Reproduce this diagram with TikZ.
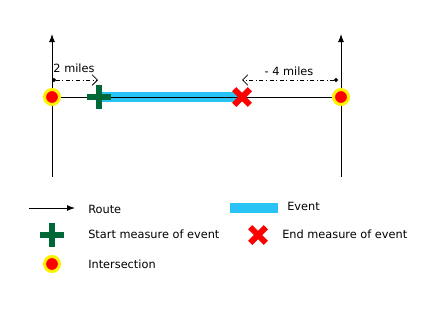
\documentclass[tikz,border=0pt]{standalone}
\usepackage{fontspec}
\setmainfont{DejaVu Sans}
\usetikzlibrary{arrows.meta,positioning,calc}
\definecolor{evblue}{RGB}{41,196,246}
\definecolor{stgreen}{RGB}{0,104,55}
\definecolor{endred}{RGB}{255,0,0}
\tikzset{
  route/.style={line width=0.75pt,-{Latex[length=6pt,width=4.5pt]}},
  evbar/.style={evblue,line width=7.5pt},
  isect/.style={circle,fill=endred,draw=yellow,line width=2.25pt,minimum size=11.25pt,inner sep=0pt},
  offset/.style={line width=0.6pt,dash dot,{Circle[length=3pt]}-{Straight Barb[length=4pt,width=8pt]}},
  lbl/.style={font=\fontsize{8.5}{10}\selectfont,inner sep=0pt},
  startmark/.pic={\fill[stgreen] (-12,-3) rectangle (12,3); \fill[stgreen] (-3,-12) rectangle (3,12);},
  endmark/.pic={\fill[endred,rotate=45] (-11,-3) rectangle (11,3); \fill[endred,rotate=-45] (-11,-3) rectangle (11,3);}
}
\begin{document}
\begin{tikzpicture}[x=0.75pt,y=-0.75pt]
\useasboundingbox (0,0) rectangle (424,318);
% routes
\coordinate (lbot) at (52,177); \coordinate (ltop) at (52,34);
\coordinate (rbot) at (341,177); \coordinate (rtop) at (341,34);
\coordinate (lmid) at (52,97); \coordinate (rmid) at (341,97);
\coordinate (evs) at (99,97); \coordinate (eve) at (242,97);
\draw[route] (lbot)--(ltop);
\draw[route] (rbot)--(rtop);
\draw[evbar] (evs)--(eve);
\draw[line width=0.75pt] (lmid)--(rmid);
\pic at (evs) {startmark};
\pic at (eve) {endmark};
\node[isect] (lint) at (lmid) {};
\node[isect] (rint) at (rmid) {};
% offsets
\coordinate (lofs) at (52,80); \coordinate (lofe) at (98,80);
\coordinate (rofs) at (338,80); \coordinate (rofe) at (242,80);
\draw[offset] (lofs)--(lofe);
\draw[offset] (rofs)--(rofe);
\node[lbl] (lmiles) at (74,68) {2 miles};
\node[lbl] (rmiles) at (289,71) {- 4 miles};
% legend
\coordinate (kra) at (29,208); \coordinate (krb) at (75,208);
\draw[route] (kra)--(krb);
\node[lbl,anchor=west] (kroute) at (88,209) {Route};
\coordinate (kea) at (230,208); \coordinate (keb) at (278,208);
\draw[evbar] (kea)--(keb);
\node[lbl,anchor=west] (kevent) at (287,206) {Event};
\pic at (52,235) {startmark};
\node[lbl,anchor=west] (kstart) at (88,234) {Start measure of event};
\pic at (258,235) {endmark};
\node[lbl,anchor=west] (kend) at (282,234) {End measure of event};
\node[isect] (kint) at (52,264) {};
\node[lbl,anchor=west] (kisect) at (88,264) {Intersection};
\end{tikzpicture}
\end{document}
